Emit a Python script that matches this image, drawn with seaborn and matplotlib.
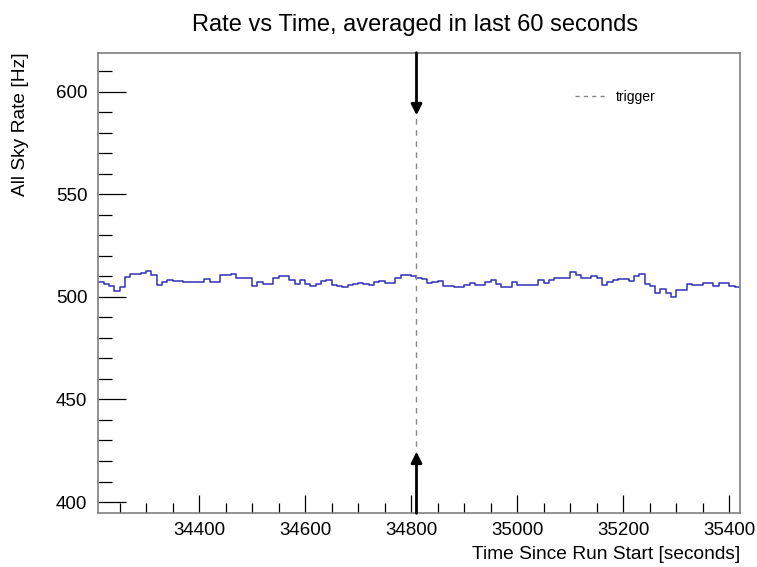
import numpy as np
import pandas as pd
import matplotlib
matplotlib.use('Agg')
import matplotlib.pyplot as plt
from matplotlib.ticker import MultipleLocator
from matplotlib.lines import Line2D
import seaborn as sns

# Dados: taxa media (Hz) em bins de 10 s
t_start = 34210
bin_width = 10
rates = [507.3, 506.5, 505.2, 502.9, 504.9, 509.7, 511.0, 511.0, 511.7, 512.7,
         510.6, 506.0, 507.0, 508.1, 507.6, 507.6, 507.3, 507.3, 507.0, 507.0,
         508.6, 507.3, 507.3, 510.6, 510.6, 510.9, 509.0, 509.0, 509.0, 505.5,
         507.0, 506.5, 506.5, 509.3, 510.1, 510.4, 508.4, 506.5, 508.1, 506.3,
         505.5, 506.5, 507.8, 508.1, 506.0, 505.5, 504.9, 505.8, 506.2, 506.7,
         506.3, 505.8, 507.3, 507.6, 506.8, 506.8, 509.0, 510.7, 510.7, 510.1,
         509.4, 508.5, 506.8, 507.0, 507.6, 505.5, 505.5, 504.9, 504.9, 506.0,
         506.8, 505.8, 505.8, 507.2, 508.1, 506.5, 504.9, 504.9, 507.3, 506.0,
         506.0, 506.0, 506.0, 508.4, 506.8, 508.1, 509.2, 509.2, 509.2, 512.2,
         510.6, 509.4, 509.4, 510.2, 509.4, 505.8, 507.3, 508.1, 508.6, 508.6,
         507.6, 510.2, 510.9, 506.5, 505.4, 501.9, 503.7, 501.9, 500.0, 503.2,
         503.2, 506.2, 505.8, 505.8, 506.8, 506.8, 505.4, 506.8, 506.8, 505.4,
         504.9]
trigger_time = 34810
arrow_top = 588.5
arrow_bottom = 424.5
x_ticks = [34400, 34600, 34800, 35000, 35200, 35400]
y_ticks = [400, 450, 500, 550, 600]

edges = t_start + bin_width * np.arange(len(rates) + 1)
df = pd.DataFrame({'tempo': edges, 'taxa': rates + [rates[-1]]})

sns.set_style('ticks')
plt.rcParams['font.family'] = ['Liberation Sans', 'DejaVu Sans']
plt.rcParams['text.color'] = 'black'
plt.rcParams['axes.labelcolor'] = 'black'
plt.rcParams['xtick.color'] = 'black'
plt.rcParams['ytick.color'] = 'black'

fig = plt.figure(figsize=(7.57, 5.67), dpi=100)
ax = fig.add_axes([0.1299, 0.0947, 0.8476, 0.8124])

sns.lineplot(data=df, x='tempo', y='taxa', drawstyle='steps-post',
             color='#3030b8', lw=1.1, ax=ax)

# Linha do trigger e setas
ax.axvline(trigger_time, color='#888888', ls=(0, (4, 4)), lw=1)
ax.annotate('', xy=(trigger_time, arrow_top), xytext=(trigger_time, 619),
            arrowprops=dict(arrowstyle='-|>', color='black', lw=2, mutation_scale=16,
                            shrinkA=0, shrinkB=0))
ax.annotate('', xy=(trigger_time, arrow_bottom), xytext=(trigger_time, 394.5),
            arrowprops=dict(arrowstyle='-|>', color='black', lw=2, mutation_scale=16,
                            shrinkA=0, shrinkB=0))

ax.set_xlim(edges[0], edges[-1])
ax.set_ylim(394.5, 619)
ax.set_xticks(x_ticks)
ax.set_yticks(y_ticks)
ax.xaxis.set_minor_locator(MultipleLocator(50))
ax.yaxis.set_minor_locator(MultipleLocator(10))
ax.tick_params(axis='both', which='both', direction='in', bottom=True, left=True,
               top=False, right=False, color='black', width=0.9)
ax.tick_params(axis='both', which='major', labelsize=13.5)
ax.tick_params(axis='x', which='major', length=13, pad=6)
ax.tick_params(axis='y', which='major', length=20, pad=8)
ax.tick_params(axis='x', which='minor', length=7)
ax.tick_params(axis='y', which='minor', length=10)
for s in ax.spines.values():
    s.set_visible(True)
    s.set_color('#808080')
    s.set_linewidth(1.2)

ax.set_xlabel('Time Since Run Start [seconds]', fontsize=13.8, loc='right', labelpad=5)
ax.set_ylabel('All Sky Rate [Hz]', fontsize=13.8, loc='top', labelpad=19)
fig.suptitle('Rate vs Time, averaged in last 60 seconds', fontsize=17, x=0.548, y=0.976)

handle = Line2D([], [], color='#888888', ls=(0, (3, 3)), lw=1)
ax.legend([handle], ['trigger'], loc='center left', bbox_to_anchor=(0.743, 0.904),
          frameon=False, fontsize=10, handlelength=2.2, borderpad=0, borderaxespad=0,
          handletextpad=0.7)

plt.savefig('out.png', dpi=100)
